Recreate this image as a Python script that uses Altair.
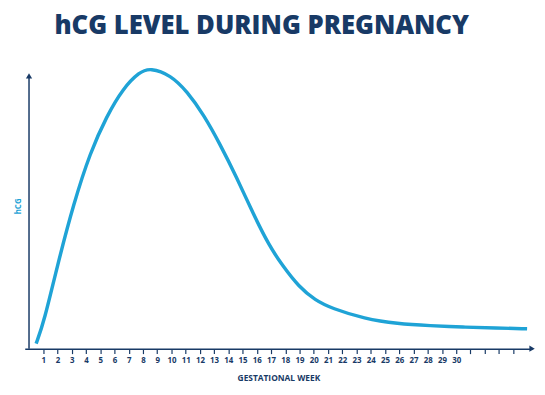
import altair as alt
import pandas as pd

weeks = [0.50, 1.07, 1.99, 3.15, 4.30, 5.45, 6.61, 7.76, 8.51, 9.95, 11.11, 12.26,
         13.41, 14.57, 15.72, 16.87, 17.80, 18.95, 20.10, 21.26, 23.56, 25.87,
         28.18, 30.48, 32.79, 34.98]
hcg = [1.8, 9.9, 29.7, 52.1, 70.1, 83.0, 93.0, 98.8, 100.3, 97.7, 91.8, 83.6,
       73.1, 61.3, 48.4, 36.7, 29.7, 22.1, 17.3, 14.4, 10.7, 8.9,
       8.2, 7.7, 7.4, 7.1]
tick_weeks = list(range(1, 35))
label_max = 30

x_end = 35.33
y_arrow = 97.4

navy = "#183a66"
cyan = "#1fa3d6"

df = pd.DataFrame({"week": weeks, "hcg": hcg})
xs = alt.Scale(domain=[-0.3, x_end], nice=False, zero=False)
ys = alt.Scale(domain=[0, 102], nice=False)

x_axis = alt.Axis(values=tick_weeks, title="GESTATIONAL WEEK",
                  labelExpr=f"datum.value <= {label_max} ? datum.label : ''",
                  labelOverlap=False,
                  grid=False, domainColor=navy, domainWidth=1.5,
                  tickColor=navy, tickSize=5, tickWidth=1.2,
                  labelColor=navy, labelFontSize=8, labelFont="Open Sans",
                  labelFontWeight="bold", labelPadding=3,
                  titleColor=navy, titleFont="Open Sans", titleFontSize=8.5,
                  titleFontWeight="bold", titlePadding=9)
y_axis = alt.Axis(title="hCG", domain=False, ticks=False, labels=False, grid=False,
                  titleColor=cyan, titleFont="Open Sans", titleFontSize=8,
                  titleFontWeight="bold", titlePadding=2)

curve = alt.Chart(df).mark_line(color=cyan, strokeWidth=3.5, interpolate="basis").encode(
    x=alt.X("week:Q", scale=xs, axis=x_axis, title="GESTATIONAL WEEK"),
    y=alt.Y("hcg:Q", scale=ys, axis=y_axis, title="hCG"),
)

yaxis_df = pd.DataFrame({"x": [0], "y0": [0], "y1": [y_arrow]})
yrule = alt.Chart(yaxis_df).mark_rule(color=navy, strokeWidth=1.5).encode(
    x=alt.X("x:Q", scale=xs, axis=x_axis, title="GESTATIONAL WEEK"),
    y=alt.Y("y0:Q", scale=ys, axis=y_axis, title="hCG"), y2="y1:Q")

arrows_df = pd.DataFrame({"x": [x_end, 0], "y": [0, y_arrow],
                          "shape": ["triangle-right", "triangle-up"]})
arrows = alt.Chart(arrows_df).mark_point(filled=True, opacity=1, color=navy, size=40).encode(
    x=alt.X("x:Q", scale=xs, axis=x_axis, title="GESTATIONAL WEEK"),
    y=alt.Y("y:Q", scale=ys, axis=y_axis, title="hCG"),
    shape=alt.Shape("shape:N", scale=None))

chart = alt.layer(curve, yrule, arrows).properties(
    width=515, height=290,
    title=alt.TitleParams("hCG LEVEL DURING PREGNANCY", font="Open Sans", fontSize=26,
                          fontWeight=800, color=navy, anchor="middle", dx=-17, offset=24),
    autosize=alt.AutoSizeParams(type="none"),
    padding={"left": 17, "top": 53, "right": 5, "bottom": 35},
).configure_view(stroke=None)

chart.save("out.html", embed_options={"renderer": "svg", "actions": False})
